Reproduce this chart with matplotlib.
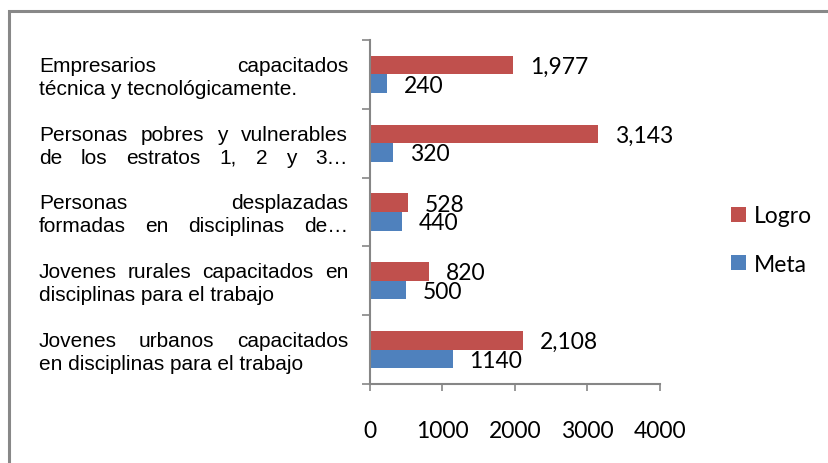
import numpy as np
import matplotlib.pyplot as plt
import matplotlib.transforms as mtransforms
from matplotlib.patches import Rectangle


# categories from bottom to top, each as its two label lines
labels = [
    ["Jovenes urbanos capacitados", "en disciplinas para el trabajo"],
    ["Jovenes rurales capacitados en", "disciplinas para el trabajo"],
    ["Personas desplazadas", "formadas en disciplinas de\u2026"],
    ["Personas pobres y vulnerables", "de los estratos 1, 2 y 3\u2026"],
    ["Empresarios capacitados", "t\u00e9cnica y tecnol\u00f3gicamente."],
]
meta = [1140, 500, 440, 320, 240]
logro = [2108, 820, 528, 3143, 1977]
xticks = [0, 1000, 2000, 3000, 4000]

RED = '#C0504D'
BLUE = '#4F81BD'
GRAY = '#868686'
NUMFONT = 'Lato'
LABFONT = 'Liberation Sans'
NUMSIZE = 16.5
LABSIZE = 15

W, H = 829, 464
fig = plt.figure(figsize=(W/100, H/100), dpi=100)
ax = fig.add_axes([370/W, 1-385/H, 290/W, 344/H])

y = np.arange(len(labels))
h = 0.27
ax.barh(y + h/2, logro, h, color=RED, label='Logro')
ax.barh(y - h/2, meta, h, color=BLUE, label='Meta')

for yi, v in zip(y, logro):
    ax.annotate(f'{v:,}', (v, yi + h/2), xytext=(12, -1), textcoords='offset points',
                va='center', ha='left', fontsize=NUMSIZE, family=NUMFONT)
for yi, v in zip(y, meta):
    ax.annotate(str(v), (v, yi - h/2), xytext=(12, -1), textcoords='offset points',
                va='center', ha='left', fontsize=NUMSIZE, family=NUMFONT)

ax.set_xlim(0, 4000)
ax.set_ylim(-0.5, len(labels) - 0.5)
ax.set_xticks(xticks)
ax.set_xticklabels([str(t) for t in xticks], fontsize=NUMSIZE, family=NUMFONT)
ax.set_yticks(np.arange(len(labels) + 1) - 0.5)
ax.set_yticklabels([])
ax.tick_params(axis='x', length=5, width=1.2, color=GRAY, pad=21)
ax.tick_params(axis='y', length=6, width=1.2, color=GRAY)
for s in ['top', 'right']:
    ax.spines[s].set_visible(False)
for s in ['left', 'bottom']:
    ax.spines[s].set_color(GRAY)
    ax.spines[s].set_linewidth(1.5)

hl, hlabels = ax.get_legend_handles_labels()
fig.legend(hl, hlabels, loc='center left', bbox_to_anchor=(731/W, 1-241/H),
           frameon=False, prop={'family': NUMFONT, 'size': NUMSIZE},
           handlelength=0.65, handleheight=0.65, handletextpad=0.35,
           labelspacing=1.2, borderpad=0, borderaxespad=0)

# justified category labels, drawn word by word
renderer = fig.canvas.get_renderer()
ident = mtransforms.IdentityTransform()
x0, x1 = 39, 348
for yi, lines in zip(y, labels):
    yc = ax.transData.transform((0, yi))[1]
    for k, line in enumerate(lines):
        base = yc + 3.5 - 23 * k
        justify = k < len(lines) - 1 or line.endswith('\u2026')
        if not justify:
            fig.text(x0, base, line, transform=ident, fontsize=LABSIZE, family=LABFONT,
                     va='baseline', ha='left')
            continue
        ts = [fig.text(x0, base, w, transform=ident, fontsize=LABSIZE, family=LABFONT,
                       va='baseline', ha='left') for w in line.split(' ')]
        widths = [t.get_window_extent(renderer).width for t in ts]
        gap = (x1 - x0 - sum(widths)) / (len(ts) - 1)
        xpos = x0
        for t, wd in zip(ts, widths):
            t.set_x(xpos)
            xpos += wd + gap

# outer chart border
fig.patches.append(Rectangle((9.5/W, -0.1), 1, 1 - 12/H + 0.1, transform=fig.transFigure,
                             fill=False, edgecolor='#888888', lw=2.2))

fig.savefig('out.png', dpi=100)
